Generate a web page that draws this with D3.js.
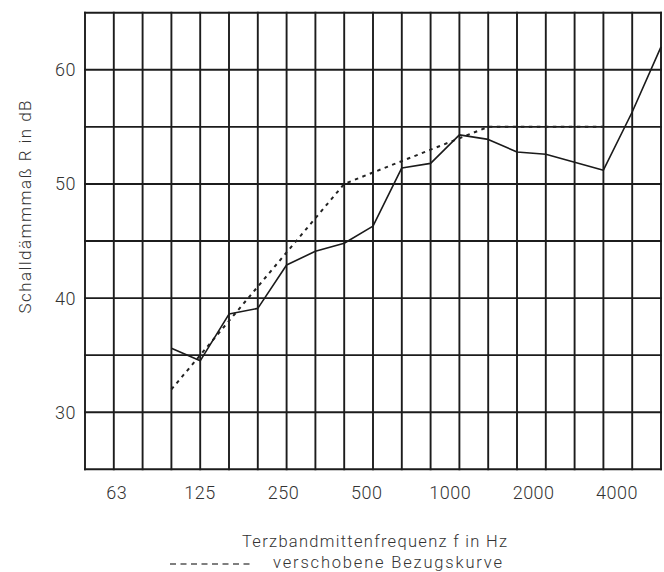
<!DOCTYPE html>
<html>
<head>
<meta charset="utf-8">
<script src="https://cdn.jsdelivr.net/npm/d3@7"></script>
<style>
  html, body { margin: 0; padding: 0; background: #fff; }
  svg { display: block; }
  text { font-family: Roboto, "DejaVu Sans", sans-serif; font-weight: 300; fill: #333; }
</style>
</head>
<body>
<svg id="chart" width="664" height="572"></svg>
<script>
// Third-octave band centre frequencies (grid columns)
const bands = ["50","63","80","100","125","160","200","250","315","400","500","630","800","1000","1250","1600","2000","2500","3150","4000","5000"];
// Measured sound reduction index R (solid line)
const measuredBands = ["100","125","160","200","250","315","400","500","630","800","1000","1250","1600","2000","2500","3150","4000","5000"];
const measuredValues = [35.6, 34.5, 38.6, 39.1, 42.9, 44.1, 44.8, 46.3, 51.4, 51.8, 54.3, 53.9, 52.8, 52.6, 51.9, 51.2, 56.3, 62.0];
// Shifted reference curve (dashed)
const refBands = ["100","125","160","200","250","315","400","500","630","800","1000","1250","1600","2000","2500","3150"];
const refValues = [32, 35, 38, 41, 44, 47, 50, 51, 52, 53, 54, 55, 55, 55, 55, 55];
// Axis labels
const xTickLabels = ["63","125","250","500","1000","2000","4000"];
const yTickValues = [30, 40, 50, 60];
const yGridValues = [25, 30, 35, 40, 45, 50, 55, 60, 65];
const yTitle = "Schalldämmmaß R in dB";
const xTitle = "Terzbandmittenfrequenz f in Hz";
const legendLabel = "verschobene Bezugskurve";

const svg = d3.select("#chart");
const mLeft = 85, mRight = 661, mTop = 12.7, mBottom = 469.3;

const x = d3.scalePoint().domain(bands).range([mLeft, mRight]);
const y = d3.scaleLinear().domain([25, 65]).range([mBottom, mTop]);
const xLab = d3.scalePoint().domain(xTickLabels).range([116.7, 617]);

const grid = svg.append("g").attr("stroke", "#1c1c1c").attr("stroke-width", 1.9);
grid.selectAll("line.v").data(bands).join("line")
  .attr("class", "v")
  .attr("x1", d => x(d)).attr("x2", d => x(d))
  .attr("y1", y(25) + 0.95).attr("y2", y(65) - 0.95);
grid.selectAll("line.h").data(yGridValues).join("line")
  .attr("class", "h")
  .attr("x1", mLeft - 0.95).attr("x2", mRight + 0.95)
  .attr("y1", d => y(d)).attr("y2", d => y(d));

// Reference curve (dashed)
const refData = refBands.map((b, i) => ({ b, v: refValues[i] }));
svg.append("path").datum(refData)
  .attr("fill", "none").attr("stroke", "#222").attr("stroke-width", 2)
  .attr("stroke-dasharray", "3.5,4.5")
  .attr("d", d3.line().x(d => x(d.b)).y(d => y(d.v)));

// Measured curve (solid)
const measData = measuredBands.map((b, i) => ({ b, v: measuredValues[i] }));
svg.append("path").datum(measData)
  .attr("fill", "none").attr("stroke", "#1a1a1a").attr("stroke-width", 1.6)
  .attr("stroke-linejoin", "round")
  .attr("d", d3.line().x(d => x(d.b)).y(d => y(d.v)));

// Y tick labels
svg.append("g").selectAll("text").data(yTickValues).join("text")
  .attr("x", 76).attr("y", d => y(d)).attr("dy", "0.36em")
  .attr("text-anchor", "end").attr("font-size", 18).attr("letter-spacing", 0.5)
  .text(d => d);

// X tick labels
svg.append("g").selectAll("text").data(xTickLabels).join("text")
  .attr("x", d => xLab(d)).attr("y", 499)
  .attr("text-anchor", "middle").attr("font-size", 18).attr("letter-spacing", 0.5)
  .text(d => d);

// Y axis title
svg.append("text")
  .attr("transform", "translate(31,207) rotate(-90)")
  .attr("text-anchor", "middle").attr("font-size", 17)
  .attr("textLength", 213).attr("lengthAdjust", "spacing")
  .text(yTitle);

// X axis title
svg.append("text")
  .attr("x", 242).attr("y", 547)
  .attr("font-size", 16.5)
  .attr("textLength", 265).attr("lengthAdjust", "spacing")
  .text(xTitle);

// Legend
svg.append("line")
  .attr("x1", 170).attr("x2", 252).attr("y1", 564).attr("y2", 564)
  .attr("stroke", "#555").attr("stroke-width", 1.3)
  .attr("stroke-dasharray", "6,4.5");
svg.append("text")
  .attr("x", 273).attr("y", 567.5)
  .attr("font-size", 16.5)
  .attr("textLength", 229).attr("lengthAdjust", "spacing")
  .text(legendLabel);
</script>
</body>
</html>
